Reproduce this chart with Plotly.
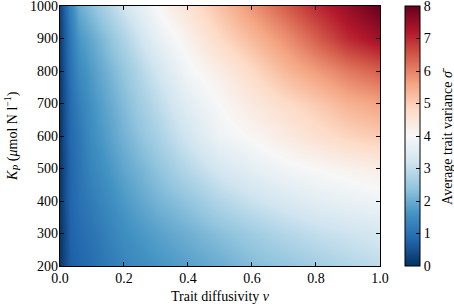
import plotly.graph_objects as go

# Trait diffusivity (x) grid and half-saturation K_P (y) grid
nu = [0.0, 0.01, 0.03, 0.06, 0.1, 0.2, 0.3, 0.4, 0.5, 0.6, 0.7, 0.8, 0.9, 1.0]
kp = [200, 300, 400, 500, 600, 700, 800, 900, 1000]

# Average trait variance, one row per K_P value
var_200 = [0.1, 0.3, 0.7, 0.8, 0.95, 1.35, 1.6, 1.8, 2.0, 2.25, 2.4, 2.6, 2.8, 2.95]
var_300 = [0.1, 0.3, 0.75, 0.9, 1.05, 1.5, 1.8, 2.05, 2.3, 2.55, 2.8, 3.0, 3.15, 3.3]
var_400 = [0.1, 0.35, 0.8, 1.0, 1.2, 1.7, 2.1, 2.4, 2.8, 3.1, 3.35, 3.55, 3.7, 3.8]
var_500 = [0.1, 0.35, 0.8, 1.05, 1.35, 1.9, 2.35, 2.85, 3.3, 3.6, 3.85, 4.0, 4.15, 4.3]
var_600 = [0.1, 0.4, 0.85, 1.1, 1.5, 2.1, 2.65, 3.25, 3.8, 4.05, 4.35, 4.65, 4.9, 5.05]
var_700 = [0.15, 0.4, 0.9, 1.25, 1.6, 2.25, 2.9, 3.55, 4.0, 4.4, 4.75, 5.05, 5.4, 5.6]
var_800 = [0.15, 0.45, 1.0, 1.45, 1.75, 2.45, 3.2, 3.9, 4.3, 4.8, 5.3, 5.7, 6.1, 6.4]
var_900 = [0.2, 0.5, 1.1, 1.65, 1.95, 2.75, 3.6, 4.2, 4.8, 5.3, 5.8, 6.4, 7.0, 7.4]
var_1000 = [0.3, 0.6, 1.3, 2.0, 2.35, 3.2, 4.0, 4.6, 5.2, 5.8, 6.4, 7.0, 7.5, 8.0]

z = [var_200, var_300, var_400, var_500, var_600, var_700, var_800, var_900, var_1000]

x_ticks = [0.0, 0.2, 0.4, 0.6, 0.8, 1.0]
y_ticks = [200, 300, 400, 500, 600, 700, 800, 900, 1000]
cb_ticks = [0, 1, 2, 3, 4, 5, 6, 7, 8]

rdbu_r = ["#053061", "#2166ac", "#4393c3", "#92c5de", "#d1e5f0", "#f7f7f7",
          "#fddbc7", "#f4a582", "#d6604d", "#b2182b", "#67001f"]
colorscale = [[i / 10, c] for i, c in enumerate(rdbu_r)]

FONT = "Liberation Serif"
FS = 14

fig = go.Figure(go.Heatmap(
    x=nu, y=kp, z=z, zmin=0, zmax=8, zsmooth="best",
    colorscale=colorscale,
    colorbar=dict(
        x=1.078, xanchor="left", xpad=0, y=0, yanchor="bottom", ypad=0,
        len=1, lenmode="fraction",
        thickness=15, outlinecolor="black", outlinewidth=1,
        tickmode="array", tickvals=cb_ticks, ticks="inside", ticklen=4, tickcolor="black",
        tickfont=dict(family=FONT, size=FS, color="black"), ticklabeloverflow="allow",
    ),
))

axis_common = dict(
    showline=True, linecolor="black", linewidth=1.2, mirror="ticks",
    ticks="inside", ticklen=4, tickcolor="black", showgrid=False, zeroline=False,
    tickfont=dict(family=FONT, size=FS, color="black"), ticklabeloverflow="allow",
)

fig.update_xaxes(range=[0, 1.0001], tickmode="array", tickvals=x_ticks, tickformat=".1f",
                 ticklabelstandoff=-1, **axis_common)
fig.update_yaxes(range=[199.99, 1000.01], tickmode="array", tickvals=y_ticks,
                 ticklabelstandoff=-2, **axis_common)

title_font = dict(family=FONT, size=FS, color="black")
fig.add_annotation(text="Trait diffusivity <i>ν</i>", xref="paper", yref="paper",
                   x=0.5, y=-0.118, xanchor="center", yanchor="middle",
                   showarrow=False, font=title_font)
fig.add_annotation(text="<i>K<sub>P</sub></i> (<i>μ</i>mol N l<sup>−1</sup>)",
                   xref="paper", yref="paper", x=-0.15, y=0.5, textangle=-90,
                   xanchor="center", yanchor="middle", showarrow=False, font=title_font)
fig.add_annotation(text="Average trait variance <i>σ̄</i>",
                   xref="paper", yref="paper", x=1.209, y=0.5, textangle=-90,
                   xanchor="center", yanchor="middle", showarrow=False, font=title_font)

fig.update_layout(
    width=454, height=307,
    margin=dict(l=60, r=74, t=6, b=41, autoexpand=False),
    paper_bgcolor="white", plot_bgcolor="white",
    font=dict(family=FONT, size=FS, color="black"),
)

fig.write_html("out.html", config={"displayModeBar": False},
               post_script="document.body.style.margin='0';")
